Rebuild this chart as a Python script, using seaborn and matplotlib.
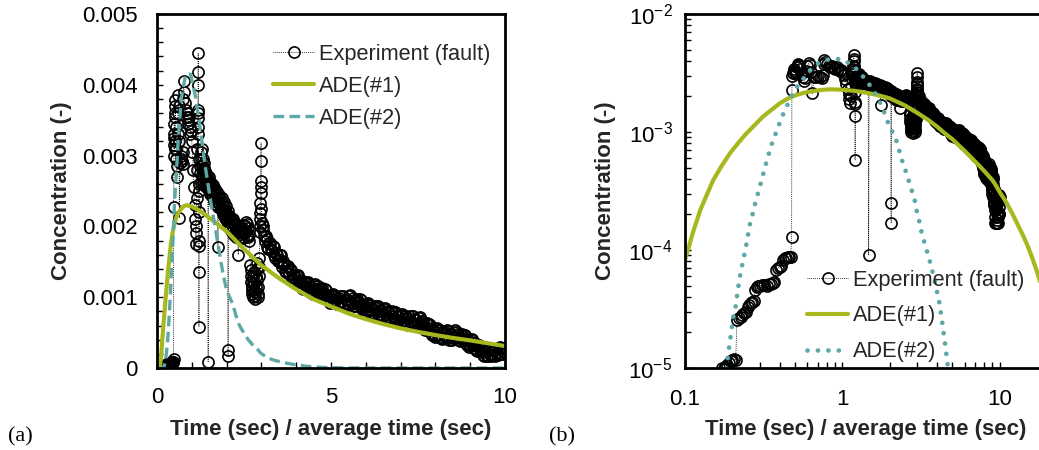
import numpy as np
import pandas as pd
import matplotlib
matplotlib.use("Agg")
import matplotlib.pyplot as plt
import seaborn as sns
from matplotlib.ticker import (FixedLocator, MultipleLocator, FuncFormatter,
                               LogLocator, NullFormatter)

# ---------------- data (concentration in units of 1e-3) ----------------
exp_t = [
    0.00, 0.02, 0.04, 0.06, 0.08, 0.10, 0.12, 0.14, 0.16,
    0.172, 0.176, 0.180, 0.184, 0.190, 0.196, 0.200, 0.204, 0.210,
    0.214, 0.220, 0.226, 0.232, 0.238, 0.244, 0.250, 0.256, 0.262, 0.268, 0.274,
    0.280, 0.286, 0.292, 0.300, 0.310, 0.320, 0.330, 0.340, 0.350, 0.360, 0.370,
    0.380, 0.390, 0.400, 0.410, 0.420, 0.430, 0.440, 0.450, 0.460, 0.470, 0.476,
    0.478, 0.482, 0.486, 0.490, 0.495, 0.500, 0.505, 0.510, 0.515, 0.520, 0.525,
    0.530, 0.540, 0.550, 0.560, 0.570, 0.580, 0.590, 0.600, 0.610, 0.620, 0.630,
    0.645, 0.660, 0.680, 0.700, 0.720, 0.740, 0.750, 0.760, 0.770, 0.780, 0.800,
    0.820, 0.840, 0.860, 0.880, 0.900, 0.920, 0.940, 0.960, 0.980, 1.000, 1.020,
    1.040, 1.060, 1.080, 1.100, 1.110, 1.120, 1.130, 1.140, 1.150, 1.160, 1.170,
    1.175, 1.180, 1.182, 1.185, 1.188, 1.190, 1.192, 1.195, 1.198, 1.200, 1.202,
    1.204, 1.206, 1.210, 1.220, 1.230, 1.240, 1.250, 1.260, 1.270, 1.280, 1.290,
    1.300, 1.310, 1.320, 1.330, 1.340, 1.350, 1.360, 1.370, 1.380, 1.390, 1.400,
    1.410, 1.420, 1.430, 1.440, 1.450, 1.460, 1.470, 1.480, 1.490,
    1.500, 1.515, 1.530, 1.545, 1.560, 1.575, 1.590, 1.605, 1.620, 1.635, 1.650,
    1.665, 1.680, 1.695, 1.710, 1.725, 1.740, 1.750, 1.765, 1.780, 1.795, 1.810,
    1.825, 1.840, 1.855, 1.870, 1.885, 1.900, 1.915, 1.930, 1.945, 1.960, 1.975,
    1.990, 2.005, 2.020, 2.035, 2.040, 2.045, 2.050, 2.065, 2.080, 2.095, 2.110,
    2.125, 2.140, 2.155, 2.170, 2.185, 2.200, 2.215, 2.230, 2.245, 2.260, 2.275,
    2.290, 2.305, 2.320, 2.335, 2.350, 2.365, 2.380, 2.395, 2.410, 2.425, 2.440,
    2.455, 2.470, 2.485, 2.500, 2.515, 2.530, 2.545, 2.560, 2.575, 2.590, 2.605,
    2.620, 2.635, 2.650,
    2.68, 2.69, 2.70, 2.71, 2.72, 2.73, 2.74, 2.75, 2.76, 2.77, 2.78, 2.79, 2.80,
    2.81, 2.82, 2.83, 2.84, 2.85, 2.86, 2.87, 2.88, 2.89, 2.90, 2.91, 2.92, 2.93,
    2.94, 2.95, 2.955, 2.96, 2.965, 2.97, 2.975, 2.98, 2.985, 2.99, 2.995, 3.00,
    3.02, 3.04,
    3.050, 3.075, 3.100, 3.125, 3.150, 3.175, 3.200, 3.225, 3.250, 3.275, 3.300,
    3.325, 3.350, 3.375, 3.400, 3.425, 3.450, 3.475, 3.500, 3.525, 3.550, 3.575,
    3.600, 3.625, 3.650, 3.675, 3.700, 3.725, 3.750, 3.775, 3.800, 3.825, 3.850,
    3.875, 3.900, 3.925, 3.950, 3.975, 4.000, 4.025, 4.050, 4.075, 4.100, 4.125,
    4.150, 4.175, 4.200, 4.225, 4.250, 4.275, 4.300, 4.325, 4.350, 4.375, 4.400,
    4.425, 4.450, 4.475, 4.500, 4.525, 4.550, 4.575, 4.600, 4.625, 4.650, 4.675,
    4.700, 4.725, 4.750, 4.775, 4.800, 4.825, 4.850, 4.875, 4.900, 4.925, 4.950,
    4.975, 5.000, 5.025, 5.050, 5.075, 5.100, 5.125, 5.150, 5.175, 5.200, 5.225,
    5.250, 5.275, 5.300, 5.325, 5.350, 5.375, 5.400, 5.425, 5.450, 5.475, 5.500,
    5.525, 5.550, 5.575, 5.600, 5.625, 5.650, 5.675, 5.700, 5.725, 5.750, 5.775,
    5.800, 5.825, 5.850, 5.875, 5.900, 5.925, 5.950, 5.975, 6.000, 6.025, 6.050,
    6.075, 6.100, 6.125, 6.150, 6.175, 6.200, 6.225, 6.250, 6.275, 6.300, 6.325,
    6.350, 6.375, 6.400, 6.425, 6.450, 6.475, 6.500, 6.525, 6.550, 6.575, 6.600,
    6.625, 6.650, 6.675, 6.700, 6.725, 6.750, 6.775, 6.800, 6.825, 6.850, 6.875,
    6.900, 6.925, 6.950, 6.975, 7.000, 7.025, 7.050, 7.075, 7.100, 7.125, 7.150,
    7.175, 7.200, 7.225, 7.250, 7.275, 7.300, 7.325, 7.350, 7.375, 7.400, 7.425,
    7.450, 7.475, 7.500, 7.525, 7.550, 7.575, 7.600, 7.625, 7.650, 7.675, 7.700,
    7.725, 7.750, 7.775, 7.800, 7.825, 7.850, 7.875, 7.900, 7.925, 7.950, 7.975,
    8.000, 8.025, 8.050, 8.075, 8.100, 8.125, 8.150, 8.175, 8.200, 8.225, 8.250,
    8.275, 8.300, 8.325, 8.350, 8.375, 8.400, 8.425, 8.450, 8.475, 8.500, 8.525,
    8.550, 8.575, 8.600, 8.625, 8.650, 8.675, 8.700, 8.725, 8.750, 8.775, 8.800,
    8.825, 8.850, 8.875, 8.900, 8.925, 8.950, 8.975, 9.000, 9.025, 9.050, 9.075,
    9.100, 9.125, 9.150, 9.175, 9.200, 9.225, 9.250, 9.275, 9.300, 9.325, 9.350,
    9.375, 9.400, 9.425, 9.450, 9.475, 9.500, 9.525, 9.550, 9.575, 9.600, 9.625,
    9.650, 9.675, 9.700, 9.725, 9.750, 9.775, 9.800, 9.825, 9.850, 9.875, 9.900,
    9.925, 9.950, 9.975, 10.000,
]
exp_c = [
    0.001, 0.002, 0.001, 0.003, 0.002, 0.004, 0.003, 0.005, 0.006,
    0.0100, 0.0098, 0.0102, 0.0105, 0.0110, 0.0115, 0.0118, 0.0120, 0.0116,
    0.0255, 0.0265, 0.0272, 0.0280, 0.0290, 0.0300, 0.0330, 0.0345, 0.0355, 0.0365, 0.0372,
    0.0460, 0.0485, 0.0495, 0.0500, 0.0505, 0.0510, 0.0500, 0.0512, 0.0520, 0.0530, 0.0535,
    0.0680, 0.0700, 0.0720, 0.0735, 0.0830, 0.0850, 0.0860, 0.0865, 0.0880, 0.0875, 0.128,
    2.27, 3.00, 3.15, 3.30, 3.45, 3.25, 3.10, 3.20, 3.55, 3.70, 3.78,
    3.60, 3.40, 3.10, 2.95, 2.70, 2.85, 3.30, 3.60, 3.85, 3.70, 3.20,
    2.12, 2.90, 2.95, 3.00, 2.92, 2.88, 3.05, 3.80, 4.05, 3.90, 3.75,
    3.65, 3.55, 3.60, 3.50, 3.45, 3.55, 3.40, 3.30, 3.35, 3.20, 3.05,
    2.80, 2.55, 2.30, 2.10, 1.90, 1.75, 2.00, 2.40, 2.80, 3.10, 3.40,
    3.60, 4.00, 4.18, 4.45, 3.65, 3.53, 3.30, 2.95, 2.60, 2.20, 1.72,
    1.36, 0.58, 1.80, 2.50, 2.85, 2.75, 2.62, 2.95, 3.05, 3.10, 2.72,
    2.85, 2.95, 2.70, 2.62, 2.90, 2.82, 2.75, 2.58, 2.65, 2.78, 2.70,
    2.55, 2.60, 2.72, 2.65, 2.55, 2.62, 0.09, 2.58, 2.70,
    2.64, 2.52, 2.46, 2.62, 2.58, 2.43, 2.45, 2.58, 2.52, 2.36, 2.40,
    2.53, 2.47, 2.32, 2.36, 2.49, 2.42, 1.71, 2.28, 2.33, 2.45, 2.38,
    2.24, 2.27, 2.40, 2.32, 2.18, 2.22, 2.35, 2.27, 2.12, 2.16, 2.29,
    2.21, 2.08, 2.10, 2.22, 0.25, 0.17, 2.02, 2.15, 2.12, 1.97, 2.00,
    2.12, 2.07, 1.92, 1.96, 2.10, 2.03, 1.88, 1.92, 2.05, 1.98, 1.85,
    1.90, 2.02, 1.95, 1.60, 1.84, 1.88, 1.99, 1.93, 1.83, 1.85, 1.98,
    1.91, 1.84, 1.90, 2.02, 1.95, 2.00, 2.06, 1.93, 1.88, 2.03, 1.98,
    1.85, 1.88, 1.80,
    1.45, 1.38, 1.30, 1.22, 1.15, 1.10, 1.05, 1.00, 1.20, 1.28, 1.35, 1.20, 1.10,
    1.02, 0.98, 1.08, 1.15, 1.30, 1.40, 1.48, 1.25, 1.15, 1.05, 1.00, 1.30, 1.42,
    1.55, 1.92, 2.00, 2.10, 2.19, 2.33, 2.47, 2.64, 2.92, 3.18, 2.55, 2.25,
    2.05, 1.95,
    2.00, 1.87, 1.80, 1.865, 1.82, 1.715, 1.68, 1.76, 1.76, 1.685, 1.65,
    1.725, 1.71, 1.595, 1.56, 1.625, 1.60, 1.505, 1.52, 1.59, 1.59, 1.48,
    1.43, 1.505, 1.47, 1.375, 1.35, 1.435, 1.44, 1.365, 1.33, 1.405, 1.39,
    1.275, 1.24, 1.31, 1.29, 1.20, 1.22, 1.30, 1.31, 1.21, 1.17, 1.25,
    1.22, 1.135, 1.12, 1.21, 1.22, 1.155, 1.13, 1.21, 1.20, 1.095, 1.07,
    1.145, 1.13, 1.05, 1.08, 1.17, 1.19, 1.10, 1.07, 1.155, 1.13, 1.045,
    1.03, 1.12, 1.13, 1.06, 1.03, 1.11, 1.10, 0.99, 0.96, 1.03, 1.01,
    0.925, 0.95, 1.035, 1.05, 0.96, 0.93, 1.015, 0.99, 0.91, 0.90, 0.995,
    1.01, 0.95, 0.93, 1.015, 1.01, 0.91, 0.89, 0.97, 0.96, 0.885, 0.92,
    1.01, 1.03, 0.935, 0.90, 0.985, 0.96, 0.88, 0.87, 0.965, 0.98, 0.915,
    0.89, 0.97, 0.96, 0.855, 0.83, 0.90, 0.88, 0.795, 0.82, 0.905, 0.925,
    0.83, 0.80, 0.89, 0.865, 0.78, 0.77, 0.865, 0.88, 0.815, 0.79, 0.875,
    0.87, 0.765, 0.74, 0.815, 0.805, 0.72, 0.75, 0.835, 0.85, 0.755, 0.72,
    0.81, 0.785, 0.70, 0.69, 0.785, 0.80, 0.735, 0.71, 0.795, 0.79, 0.685,
    0.66, 0.735, 0.72, 0.635, 0.66, 0.75, 0.765, 0.67, 0.64, 0.73, 0.705,
    0.62, 0.61, 0.71, 0.73, 0.67, 0.65, 0.74, 0.735, 0.63, 0.61, 0.69,
    0.675, 0.59, 0.62, 0.705, 0.72, 0.625, 0.59, 0.67, 0.645, 0.56, 0.54,
    0.63, 0.64, 0.57, 0.54, 0.62, 0.61, 0.50, 0.47, 0.54, 0.525, 0.44,
    0.46, 0.55, 0.565, 0.47, 0.44, 0.53, 0.505, 0.42, 0.41, 0.51, 0.525,
    0.46, 0.44, 0.53, 0.525, 0.42, 0.40, 0.48, 0.47, 0.39, 0.42, 0.51,
    0.535, 0.45, 0.42, 0.505, 0.48, 0.395, 0.38, 0.47, 0.485, 0.42, 0.39,
    0.47, 0.465, 0.36, 0.33, 0.40, 0.385, 0.30, 0.32, 0.40, 0.415, 0.32,
    0.28, 0.36, 0.33, 0.25, 0.24, 0.31, 0.32, 0.25, 0.22, 0.29, 0.285,
    0.19, 0.17, 0.24, 0.225, 0.17, 0.17, 0.26, 0.275, 0.20, 0.17, 0.26,
    0.245, 0.18, 0.17, 0.26, 0.275, 0.21, 0.19, 0.28, 0.295, 0.20, 0.20,
    0.28, 0.28, 0.23, 0.28,
]

ade1_t = [0.0, 0.05, 0.08, 0.10, 0.112, 0.125, 0.14, 0.151, 0.17, 0.193, 0.22,
          0.246, 0.28, 0.313, 0.35, 0.40, 0.45, 0.51, 0.58, 0.65, 0.75, 0.85,
          1.0, 1.2, 1.4, 1.64, 2.0, 2.5, 3.0, 3.5, 4.0, 4.5, 5.0, 5.5, 6.0, 6.5,
          7.0, 7.5, 8.0, 8.5, 9.0, 9.5, 10.0, 11.0, 12.0, 13.0, 14.0, 15.0,
          16.0, 17.0, 18.0, 20.0]
ade1_c = [0.0, 0.0005, 0.02, 0.082, 0.139, 0.218, 0.31, 0.39, 0.51, 0.66, 0.82,
          0.975, 1.16, 1.35, 1.52, 1.75, 1.92, 2.06, 2.16, 2.22, 2.28, 2.30,
          2.28, 2.23, 2.16, 2.07, 1.93, 1.68, 1.45, 1.27, 1.11, 0.97, 0.87, 0.77,
          0.69, 0.62, 0.56, 0.51, 0.465, 0.425, 0.39, 0.35, 0.31, 0.255, 0.205,
          0.165, 0.135, 0.11, 0.088, 0.07, 0.055, 0.033]

ade2_t = [0.0, 0.10, 0.15, 0.17, 0.184, 0.193, 0.202, 0.21, 0.22, 0.234, 0.243,
          0.258, 0.27, 0.281, 0.295, 0.309, 0.323, 0.338, 0.356, 0.378, 0.401,
          0.43, 0.464, 0.50, 0.558, 0.617, 0.702, 0.826, 0.963, 1.112, 1.25,
          1.385, 1.53, 1.67, 1.79, 1.89, 2.0, 2.17, 2.27, 2.37, 2.5, 2.62, 2.76,
          2.9, 2.98, 3.1, 3.2, 3.4, 3.65, 3.9, 4.15, 4.3, 4.5, 4.7, 5.0, 5.5,
          6.0, 7.0, 8.0, 10.0]
ade2_c = [0.0, 0.00001, 0.0015, 0.005, 0.0106, 0.0167, 0.0264, 0.0335, 0.053,
          0.082, 0.103, 0.163, 0.205, 0.257, 0.322, 0.405, 0.508, 0.63, 0.79,
          0.98, 1.21, 1.52, 1.87, 2.30, 2.76, 3.29, 3.82, 4.15, 4.15, 3.82,
          3.35, 2.85, 2.39, 1.99, 1.64, 1.35, 1.10, 0.91, 0.74, 0.60, 0.49,
          0.40, 0.32, 0.257, 0.21, 0.17, 0.138, 0.105, 0.075, 0.052, 0.035,
          0.025, 0.016, 0.010, 0.005, 0.0018, 0.0008, 0.0002, 0.0001, 0.00002]

labels = ["Experiment (fault)", "ADE(#1)", "ADE(#2)"]

# ---------------- styling ----------------
sns.set_theme(style="ticks")
plt.rcParams["font.family"] = ["Liberation Sans", "DejaVu Sans"]
plt.rcParams["mathtext.fontset"] = "custom"
plt.rcParams["mathtext.rm"] = "Liberation Sans"
plt.rcParams["mathtext.it"] = "Liberation Sans:italic"
plt.rcParams["mathtext.bf"] = "Liberation Sans:bold"
plt.rcParams["mathtext.default"] = "regular"

GREEN = "#a6b81e"
TEAL = "#5fa8a8"
FS = 16

df_exp = pd.DataFrame({"t": exp_t, "c": np.array(exp_c) * 1e-3})
df_a1 = pd.DataFrame({"t": ade1_t, "c": np.array(ade1_c) * 1e-3})
df_a2 = pd.DataFrame({"t": ade2_t, "c": np.array(ade2_c) * 1e-3})

W, H = 1039, 450
fig = plt.figure(figsize=(W / 100, H / 100), dpi=100)
axL = fig.add_axes([157 / W, 82 / H, 348 / W, 354 / H])
axR = fig.add_axes([685 / W, 82 / H, 362 / W, 354 / H])

exp_kw = dict(color="black", linestyle=(0, (1, 1.3)), linewidth=0.6,
              marker="o", markersize=8.0, markerfacecolor="none",
              markeredgecolor="black", markeredgewidth=1.2)


def draw(ax, d_exp, d1, d2, ade2_style):
    sns.lineplot(data=d_exp, x="t", y="c", ax=ax, estimator=None, sort=False,
                 **exp_kw)
    h0 = ax.lines[-1]
    sns.lineplot(data=d1, x="t", y="c", ax=ax, estimator=None, sort=False,
                 color=GREEN, linewidth=3.0)
    h1 = ax.lines[-1]
    sns.lineplot(data=d2, x="t", y="c", ax=ax, estimator=None, sort=False,
                 color=TEAL, **ade2_style)
    h2 = ax.lines[-1]
    return [h0, h1, h2]


# ---------------- left panel (linear) ----------------
hL = draw(axL, df_exp, df_a1, df_a2,
          dict(linewidth=2.4, linestyle=(0, (3.2, 1.6))))
axL.set_xlim(0, 10)
axL.set_ylim(0, 0.005)
axL.xaxis.set_major_locator(FixedLocator([0, 5, 10]))
axL.xaxis.set_minor_locator(MultipleLocator(1))
axL.yaxis.set_major_locator(MultipleLocator(0.001))
axL.yaxis.set_minor_locator(MultipleLocator(0.0002))
axL.yaxis.set_major_formatter(FuncFormatter(
    lambda v, p: "0" if abs(v) < 1e-12 else f"{v:.3f}"))
axL.xaxis.set_major_formatter(FuncFormatter(lambda v, p: f"{v:g}"))
axL.tick_params(axis="y", which="both", pad=14)
axL.tick_params(axis="x", which="both", pad=14)
axL.legend(hL, labels, loc="upper left", bbox_to_anchor=(0.333, 0.916),
           frameon=False, fontsize=15.7, handlelength=1.9, handletextpad=0.2,
           labelspacing=0.51, borderpad=0, borderaxespad=0)

# ---------------- right panel (log-log) ----------------
axR.set_xscale("log")
axR.set_yscale("log")
pos = lambda d: d[(d["t"] > 0) & (d["c"] > 0)]
hR = draw(axR, pos(df_exp), pos(df_a1), pos(df_a2),
          dict(linewidth=3.4, linestyle=(0, (0.01, 2.2)),
               dash_capstyle="round"))
axR.set_xlim(0.1, 20)
axR.set_ylim(1e-5, 1e-2)
axR.xaxis.set_major_locator(LogLocator(base=10))
axR.xaxis.set_minor_locator(LogLocator(base=10, subs=np.arange(2, 10)))
axR.xaxis.set_minor_formatter(NullFormatter())
axR.xaxis.set_major_formatter(FuncFormatter(lambda v, p: f"{v:g}"))
axR.yaxis.set_minor_locator(LogLocator(base=10, subs=np.arange(2, 10)))
axR.yaxis.set_minor_formatter(NullFormatter())
axR.tick_params(axis="y", which="both", pad=9)
axR.tick_params(axis="x", which="both", pad=15)
axR.legend(hR, labels, loc="upper left", bbox_to_anchor=(0.337, 0.278),
           frameon=False, fontsize=15.7, handlelength=1.9, handletextpad=0.2,
           labelspacing=0.68, borderpad=0, borderaxespad=0)

for ax in (axL, axR):
    ax.set_xlabel("Time (sec) / average time (sec)", fontsize=FS,
                  fontweight="bold")
    ax.set_ylabel("Concentration (-)", fontsize=FS, fontweight="bold")
    ax.tick_params(which="both", direction="in", length=4.5, width=1.0,
                   color="black", labelcolor="black", labelsize=FS,
                   top=False, right=False, bottom=True, left=True)
    for s in ax.spines.values():
        s.set_color("black")
        s.set_linewidth(2.0)
    ax.set_facecolor("white")
    ax.xaxis.set_label_coords(0.5, -0.145)

axL.yaxis.set_label_coords(-0.245, 0.5)
axR.yaxis.set_label_coords(-0.19, 0.5)

fig.text(8 / W, 1 - 437 / H, "(a)", family="Liberation Serif", fontsize=16,
         va="center", ha="left", color="black")
fig.text(549 / W, 1 - 437 / H, "(b)", family="Liberation Serif", fontsize=16,
         va="center", ha="left", color="black")

fig.savefig("out.png", dpi=100, facecolor="white")
